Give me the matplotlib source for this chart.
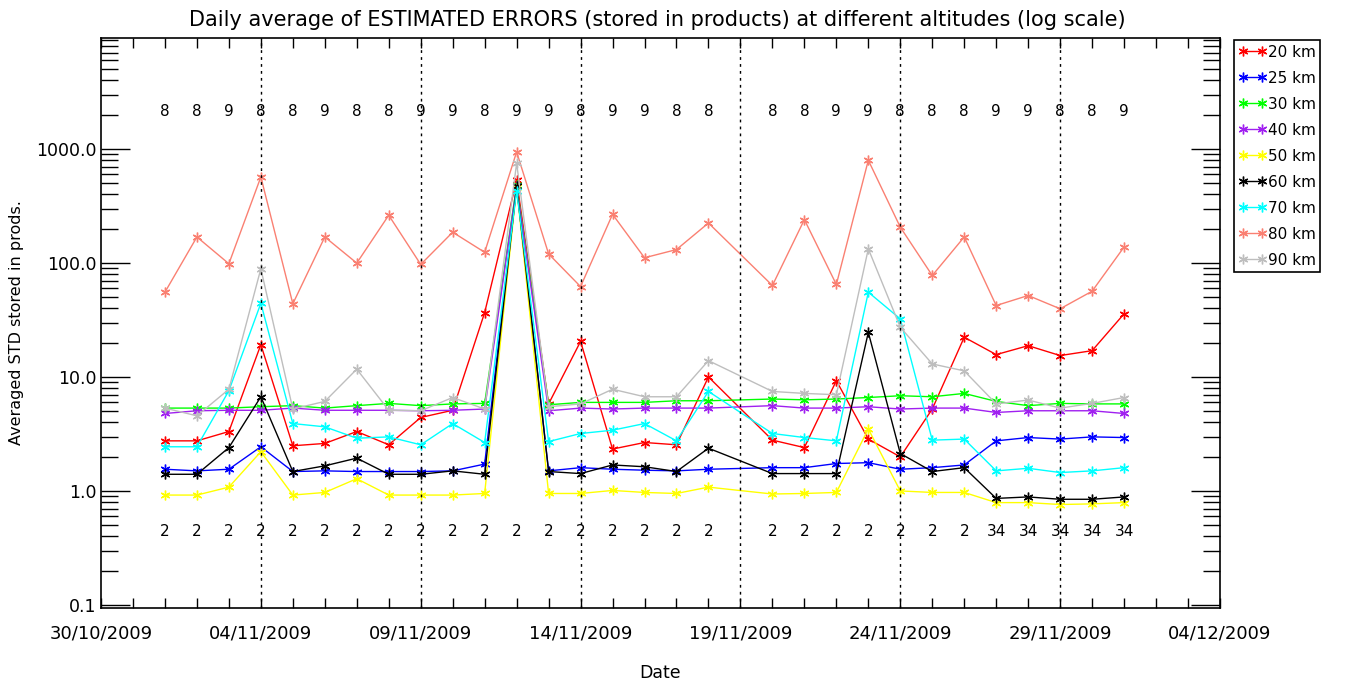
import datetime as dt

import numpy as np
import matplotlib
matplotlib.use('Agg')
import matplotlib.pyplot as plt
import matplotlib.dates as mdates
from matplotlib.ticker import FixedLocator, LogLocator, FuncFormatter, NullFormatter

# days with data (no data on 19/11)
days = ['01/11', '02/11', '03/11', '04/11', '05/11', '06/11', '07/11', '08/11', '09/11', '10/11',
        '11/11', '12/11', '13/11', '14/11', '15/11', '16/11', '17/11', '18/11', '20/11', '21/11',
        '22/11', '23/11', '24/11', '25/11', '26/11', '27/11', '28/11', '29/11', '30/11', '01/12']

err_20 = [2.75, 2.75, 3.32, 19.2, 2.49, 2.61, 3.32, 2.54, 4.41, 5.1, 36.7, 530, 5.8, 20.5, 2.33,
          2.66, 2.54, 10.0, 2.79, 2.40, 9.27, 2.85, 1.99, 5.23, 22.3, 15.7, 18.8, 15.4, 17.0, 35.8]
err_25 = [1.55, 1.50, 1.55, 2.44, 1.48, 1.50, 1.48, 1.48, 1.48, 1.50, 1.72, 470, 1.50, 1.60, 1.55,
          1.52, 1.50, 1.55, 1.60, 1.60, 1.74, 1.77, 1.55, 1.60, 1.69, 2.75, 2.94, 2.85, 2.98, 2.94]
err_30 = [5.33, 5.33, 5.33, 5.48, 5.6, 5.33, 5.6, 5.86, 5.6, 5.8, 5.86, 480, 5.7, 5.98, 5.98,
          5.98, 6.18, 6.18, 6.4, 6.3, 6.4, 6.6, 6.84, 6.7, 7.17, 6.1, 5.6, 5.86, 5.8, 5.8]
err_40 = [4.78, 5.05, 5.1, 5.1, 5.33, 5.1, 5.1, 5.1, 5.05, 5.1, 5.23, 470, 5.05, 5.33, 5.23,
          5.33, 5.33, 5.33, 5.6, 5.33, 5.33, 5.48, 5.23, 5.33, 5.33, 4.88, 5.05, 5.05, 5.05, 4.78]
err_50 = [0.92, 0.92, 1.08, 2.21, 0.92, 0.97, 1.28, 0.92, 0.92, 0.92, 0.95, 460, 0.95, 0.95, 1.01,
          0.97, 0.95, 1.08, 0.94, 0.95, 0.97, 3.5, 1.0, 0.97, 0.97, 0.79, 0.79, 0.76, 0.77, 0.79]
err_60 = [1.40, 1.40, 2.40, 6.7, 1.48, 1.66, 1.94, 1.40, 1.40, 1.50, 1.40, 470, 1.48, 1.42, 1.69,
          1.63, 1.48, 2.37, 1.42, 1.42, 1.42, 24.6, 2.13, 1.48, 1.60, 0.86, 0.886, 0.845, 0.845, 0.886]
err_70 = [2.44, 2.44, 7.57, 44.3, 3.9, 3.65, 2.9, 2.98, 2.54, 3.9, 2.66, 430, 2.71, 3.19, 3.41,
          3.9, 2.75, 7.46, 3.19, 2.94, 2.75, 55.4, 32.3, 2.79, 2.85, 1.50, 1.58, 1.45, 1.50, 1.60]
err_80 = [55.4, 169, 98.4, 568, 43.8, 169, 99.7, 262, 97, 186, 124, 942, 120, 62, 267,
          111, 131, 224, 63.4, 240, 64.7, 796, 206, 77.6, 169, 42.3, 51.8, 39.6, 56.5, 138]
err_90 = [5.33, 4.56, 7.8, 89, 5.23, 6.1, 11.7, 5.1, 5.05, 6.6, 5.23, 750, 5.48, 5.8, 7.8,
          6.7, 6.7, 13.9, 7.46, 7.17, 6.98, 133, 27.3, 13.0, 11.3, 5.8, 6.27, 5.33, 5.86, 6.6]

# number of products per day (top row) and bottom row labels
n_top = [8, 8, 9, 8, 8, 9, 8, 8, 9, 9, 8, 9, 9, 8, 9, 9, 8, 8,
         8, 8, 9, 9, 8, 8, 8, 9, 9, 8, 8, 9]
n_bot = ['2'] * 25 + ['34'] * 5

altitudes = ['20 km', '25 km', '30 km', '40 km', '50 km', '60 km', '70 km', '80 km', '90 km']
colors = ['#ff0000', '#0000ff', '#00ff00', '#a020f0', '#ffff00', '#000000', '#00ffff', '#fa8072', '#bebebe']
series = [err_20, err_25, err_30, err_40, err_50, err_60, err_70, err_80, err_90]


def to_date(s):
    d, m = s.split('/')
    return dt.datetime(2009, int(m), int(d))


x = [to_date(s) for s in days]

fig = plt.figure(figsize=(13.48, 6.84), dpi=100)
ax = fig.add_axes([101 / 1348, 1 - 608 / 684, (1220 - 101) / 1348, (608 - 38) / 684])

for y, c, lab in zip(series, colors, altitudes):
    ax.plot(x, y, color=c, lw=1.0, marker=(6, 2, 0), ms=7, mew=1.0, label=lab)

for xi, t, b in zip(x, n_top, n_bot):
    ax.text(xi, 2150, str(t), ha='center', va='center', fontsize=11)
    ax.text(xi, 0.445, b, ha='center', va='center', fontsize=11)

ax.set_yscale('log')
ax.set_ylim(0.094, 9400)
x0 = dt.datetime(2009, 10, 30)
x1 = dt.datetime(2009, 12, 4)
ax.set_xlim(x0, x1)

major = [x0 + dt.timedelta(days=5 * k) for k in range(8)]
ax.xaxis.set_major_locator(FixedLocator(mdates.date2num(major)))
ax.xaxis.set_minor_locator(mdates.DayLocator())
ax.xaxis.set_major_formatter(mdates.DateFormatter('%d/%m/%Y'))
ax.yaxis.set_major_locator(LogLocator(base=10))
ax.yaxis.set_minor_locator(LogLocator(base=10, subs=np.arange(2, 10)))
ax.yaxis.set_major_formatter(FuncFormatter(lambda v, p: '%.1f' % v))
ax.yaxis.set_minor_formatter(NullFormatter())

ax.tick_params(axis='x', which='both', direction='in', top=True, length=7, width=1, labelsize=13, pad=12)
ax.tick_params(axis='y', which='major', direction='in', right=True, length=21, width=1, labelsize=12.5, pad=3)
ax.tick_params(axis='y', which='minor', direction='in', right=True, length=12, width=1)

for xv in major[1:-1]:
    ax.axvline(xv, color='black', ls=(0, (2, 3)), lw=1.0)

for s in ax.spines.values():
    s.set_linewidth(1.2)

fig.text(657 / 1348, 1 - 20 / 684,
         'Daily average of ESTIMATED ERRORS (stored in products) at different altitudes (log scale)',
         ha='center', va='center', fontsize=15)
fig.text(660 / 1348, 1 - 673 / 684, 'Date', ha='center', va='center', fontsize=12.5)
fig.text(17 / 1348, 1 - 323 / 684, 'Averaged STD stored in prods.', rotation=90,
         ha='center', va='center', fontsize=11.5)

leg = fig.legend(loc='upper left', bbox_to_anchor=(1234 / 1348, 1 - 40 / 684), borderaxespad=0,
                 fontsize=11, numpoints=2, handlelength=1.8, handletextpad=0.1,
                 labelspacing=0.72, borderpad=0.3, fancybox=False, framealpha=1)
leg.get_frame().set_edgecolor('black')
leg.get_frame().set_linewidth(1.2)

plt.savefig('out.png', dpi=100)
